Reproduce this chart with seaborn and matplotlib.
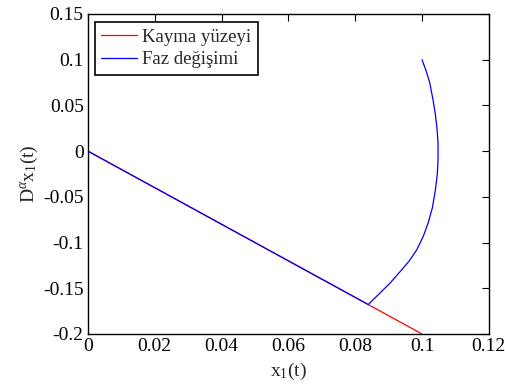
import matplotlib
matplotlib.use("Agg")
import matplotlib.pyplot as plt
import seaborn as sns
import pandas as pd

# Sliding surface (Kayma yüzeyi): endpoints
surface_x = [0.0, 0.1]
surface_y = [0.0, -0.2]

# Phase trajectory (Faz değişimi)
phase_x = [0.1000, 0.1012, 0.1023, 0.1033, 0.1040, 0.1045, 0.1048, 0.1048,
           0.1046, 0.1040, 0.1031, 0.1018, 0.1004, 0.0984, 0.0962, 0.0934,
           0.0904, 0.0872, 0.0839, 0.0420, 0.0]
phase_y = [0.1000, 0.0880, 0.0750, 0.0559, 0.0400, 0.0240, 0.0086, -0.0080,
           -0.0242, -0.0425, -0.0620, -0.0790, -0.0930, -0.1081, -0.1200,
           -0.1320, -0.1445, -0.1560, -0.1678, -0.0840, 0.0]

x_ticks = [0, 0.02, 0.04, 0.06, 0.08, 0.1, 0.12]
x_tick_labels = ["0", "0.02", "0.04", "0.06", "0.08", "0.1", "0.12"]
y_ticks = [-0.2, -0.15, -0.1, -0.05, 0, 0.05, 0.1, 0.15]
y_tick_labels = ["-0.2", "-0.15", "-0.1", "-0.05", "0", "0.05", "0.1", "0.15"]

sns.set_style("white")
plt.rcParams["font.family"] = ["Liberation Serif", "DejaVu Serif"]
plt.rcParams["mathtext.fontset"] = "custom"
plt.rcParams["mathtext.rm"] = "Liberation Serif"
plt.rcParams["mathtext.it"] = "Liberation Serif:italic"

fig = plt.figure(figsize=(5.05, 3.87), dpi=100)
ax = fig.add_axes([0.174, 0.137, 0.794, 0.827])

df_s = pd.DataFrame({"x": surface_x, "y": surface_y})
df_p = pd.DataFrame({"x": phase_x, "y": phase_y})
sns.lineplot(data=df_s, x="x", y="y", sort=False, estimator=None, color="#ff0000",
             lw=0.9, ax=ax, label="Kayma yüzeyi")
sns.lineplot(data=df_p, x="x", y="y", sort=False, estimator=None, color="#0000ff",
             lw=0.9, ax=ax, label="Faz değişimi")

ax.set_xlim(0, 0.12)
ax.set_ylim(-0.2, 0.15)
ax.set_xticks(x_ticks)
ax.set_xticklabels(x_tick_labels)
ax.set_yticks(y_ticks)
ax.set_yticklabels(y_tick_labels)
ax.tick_params(direction="in", length=5, width=0.8, top=True, right=True,
               labelsize=14, colors="black", pad=3)
for s in ax.spines.values():
    s.set_visible(True)
    s.set_color("black")
    s.set_linewidth(1.0)

ax.set_xlabel(r"x$_1$(t)", fontsize=14, labelpad=4)
ax.set_ylabel(r"D$^{\alpha}$x$_1$(t)", fontsize=14, labelpad=2)

leg = ax.legend(loc="upper left", bbox_to_anchor=(0.017, 0.975), borderaxespad=0,
                fancybox=False, framealpha=1, edgecolor="black", fontsize=13.5,
                handlelength=1.9, handletextpad=0.3, borderpad=0.35, labelspacing=0.3)
leg.get_frame().set_linewidth(1.2)

fig.savefig("out.png", dpi=100)
